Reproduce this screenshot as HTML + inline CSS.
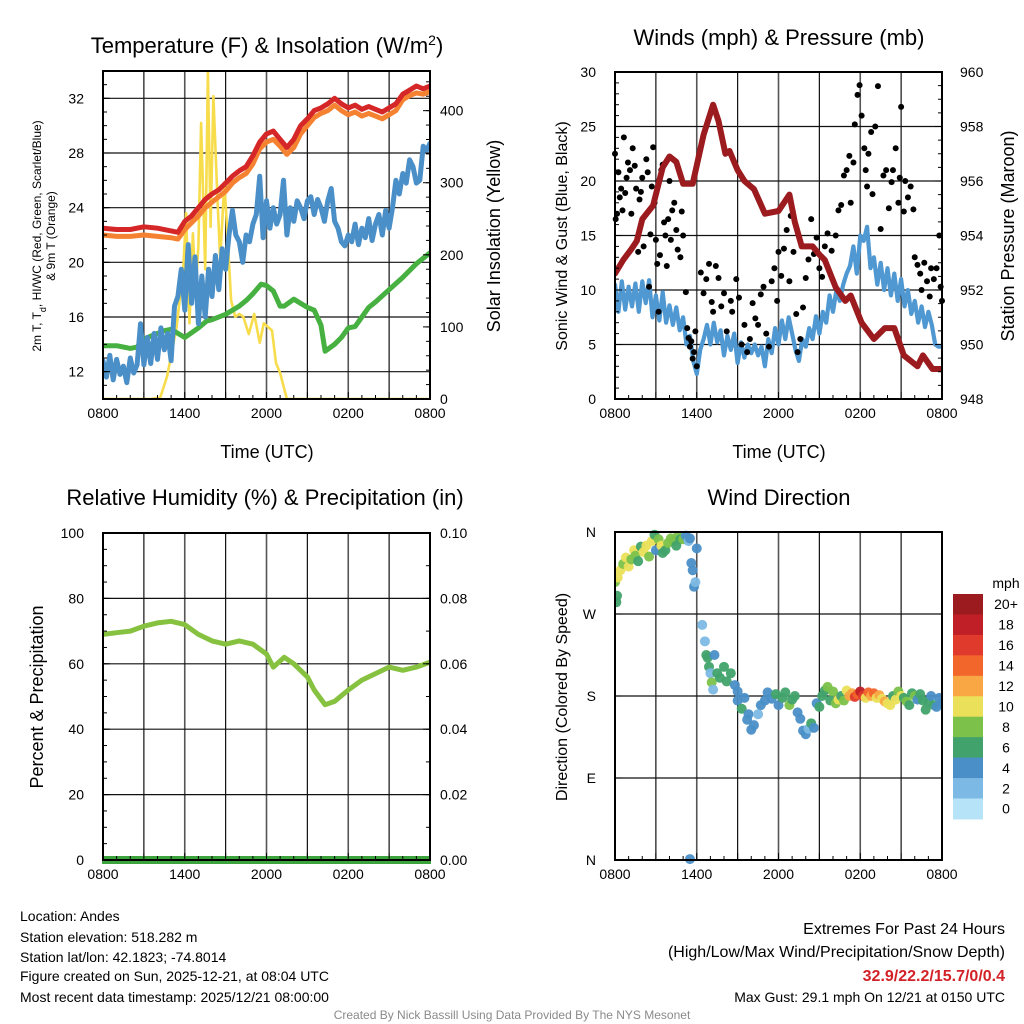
<!DOCTYPE html>
<html><head><meta charset="utf-8"><title>Mesonet Meteogram</title>
<style>
html,body{margin:0;padding:0;background:#fff;}
svg{display:block;font-family:"Liberation Sans",Arial,sans-serif;}
</style></head>
<body>
<svg id="fig" width="1024" height="1024" viewBox="0 0 1024 1024" xmlns="http://www.w3.org/2000/svg">
<rect x="0" y="0" width="1024" height="1024" fill="#fff"/>
<!-- titles -->
<text x="267" y="53" font-size="22" text-anchor="middle">Temperature (F) &amp; Insolation (W/m<tspan baseline-shift="super" font-size="14">2</tspan>)</text>
<text x="779" y="45" font-size="22" text-anchor="middle">Winds (mph) &amp; Pressure (mb)</text>
<text x="265" y="505" font-size="22" text-anchor="middle">Relative Humidity (%) &amp; Precipitation (in)</text>
<text x="779" y="505" font-size="22" text-anchor="middle">Wind Direction</text>
<!-- axis titles -->
<text x="267" y="458" font-size="18" text-anchor="middle">Time (UTC)</text>
<text x="779" y="458" font-size="18" text-anchor="middle">Time (UTC)</text>
<text transform="translate(41,236) rotate(-90)" font-size="12" text-anchor="middle">2m T, T<tspan baseline-shift="sub" font-size="9">d</tspan>, HI/WC (Red, Green, Scarlet/Blue)</text>
<text transform="translate(55,236) rotate(-90)" font-size="12" text-anchor="middle">&amp; 9m T (Orange)</text>
<text transform="translate(500,236) rotate(-90)" font-size="18" text-anchor="middle">Solar Insolation (Yellow)</text>
<text transform="translate(567,236) rotate(-90)" font-size="16" text-anchor="middle">Sonic Wind &amp; Gust (Blue, Black)</text>
<text transform="translate(1014,236) rotate(-90)" font-size="18" text-anchor="middle">Station Pressure (Maroon)</text>
<text transform="translate(43,697) rotate(-90)" font-size="18" text-anchor="middle">Percent &amp; Precipitation</text>
<text transform="translate(567,697) rotate(-90)" font-size="16" text-anchor="middle">Direction (Colored By Speed)</text>
<!-- footer -->
<g font-size="14">
<text x="20" y="921">Location: Andes</text>
<text x="20" y="942">Station elevation: 518.282 m</text>
<text x="20" y="962">Station lat/lon: 42.1823; -74.8014</text>
<text x="20" y="981">Figure created on Sun, 2025-12-21, at 08:04 UTC</text>
<text x="20" y="1002">Most recent data timestamp: 2025/12/21 08:00:00</text>
</g>
<g text-anchor="end">
<text x="1005" y="934" font-size="16">Extremes For Past 24 Hours</text>
<text x="1005" y="957" font-size="16">(High/Low/Max Wind/Precipitation/Snow Depth)</text>
<text x="1005" y="981" font-size="16" font-weight="bold" fill="#d22228">32.9/22.2/15.7/0/0.4</text>
<text x="1005" y="1002" font-size="14">Max Gust: 29.1 mph On 12/21 at 0150 UTC</text>
</g>
<text x="512" y="1019" font-size="12" fill="#8a8a8a" text-anchor="middle">Created By Nick Bassill Using Data Provided By The NYS Mesonet</text>
</svg>
<script>
// ---------- shared ----------
const xTickLabels = ["0800","1400","2000","0200","0800"];
// Panel 1 data
const redT = [0,1,2,3,4,5,5.5,6,6.5,7,7.5,8,8.5,9,9.5,10,10.5,11,11.5,12,12.5,13,13.5,14,14.5,15,15.5,16,16.5,17,17.5,18,18.5,19,19.5,20,20.5,21,21.5,22,22.5,23,23.5,24];
const redV = [22.5,22.4,22.4,22.6,22.5,22.3,22.2,23.0,23.4,24.0,24.6,25.0,25.3,25.8,26.3,26.7,27.0,27.8,28.8,29.4,29.6,29.0,28.4,29.0,30.0,30.5,31.1,31.3,31.6,32.0,31.6,31.3,31.5,31.2,31.4,31.2,31.0,31.3,31.6,32.3,32.6,32.9,32.7,32.9];
const orangeV = [22.0,21.9,21.9,22.0,21.9,21.8,21.7,22.4,22.9,23.4,24.0,24.4,24.8,25.2,25.8,26.2,26.5,27.2,28.3,28.8,29.0,28.5,27.9,28.4,29.4,30.0,30.6,30.9,31.1,31.5,31.1,30.8,31.0,30.7,30.9,30.7,30.5,30.8,31.1,31.9,32.2,32.4,32.3,32.5];
const greenT = [0,1,2,2.5,3,4,4.5,5,5.5,6,7,7.6,8,9,10,10.5,11,11.6,12,12.5,13,13.3,14,14.5,15,15.5,16,16.3,17,17.5,18,18.5,19,19.5,20,21,22,22.5,23,24];
const greenV = [13.9,13.9,13.7,13.8,14.4,14.8,15.0,15.1,14.8,14.5,15.2,15.7,15.8,16.2,16.8,17.2,17.7,18.4,18.3,17.9,16.8,16.8,17.3,17.0,16.7,16.5,15.4,13.5,14.0,14.5,15.2,15.3,16.0,16.7,17.1,18.0,18.9,19.4,19.9,20.7];
const blueV = [12.8,11.6,13.2,11.4,12.9,11.8,12.4,11.2,13.0,11.9,12.5,15.5,12.5,14.5,12.6,14.8,12.9,15.2,13.6,14.8,12.8,16.8,17.5,19.5,16.5,21.3,17.0,20.4,15.5,19.0,16.0,19.5,17.5,20.5,18.0,21.0,19.5,22.0,23.8,22.0,21.5,20.0,22.0,21.5,22.8,23.5,26.3,21.8,24.5,22.5,24.0,22.8,23.5,26.0,22.0,24.0,23.0,24.5,24.0,23.2,24.5,24.8,23.5,24.6,24.0,23.0,24.5,25.4,23.0,22.5,21.5,21.2,22.0,21.5,22.8,21.3,22.5,21.8,23.2,21.6,22.8,23.5,22.0,23.8,22.5,24.0,26.0,25.0,26.5,25.8,27.5,27.0,25.8,26.0,28.5,28.2,28.7];
const solarT = [0,3.5,4.2,4.7,5.0,5.4,5.7,5.9,6.1,6.35,6.6,6.8,7.0,7.2,7.5,7.7,7.9,8.1,8.4,8.6,8.9,9.1,9.4,9.7,10.0,10.3,10.7,11.1,11.5,11.8,12.1,12.4,12.7,13.0,13.5,24];
const solarV = [0,0,2,31,60,100,150,184,258,105,230,150,212,383,180,455,239,420,276,193,300,239,137,114,118,114,90,118,78,105,100,95,50,36,0,0];
// Panel 2 data
const pressT = [0,0.6,1.2,1.6,2,2.8,3.5,4,4.5,5,5.7,6.5,7.2,7.6,8.1,8.4,9,9.5,10.2,11,12,12.8,13.2,13.7,14.5,15,15.4,16.2,16.9,17.3,18.1,19,19.8,20.5,21.2,22.2,22.6,23.3,24];
const pressV = [952.6,953.1,953.5,953.8,954.6,955.1,956.5,956.9,956.7,955.9,955.9,957.7,958.8,958.2,957.0,957.1,956.4,956.0,955.7,954.8,954.9,955.5,954.5,953.6,953.6,953.3,953.1,952.1,951.6,951.8,950.8,950.2,950.6,950.6,949.6,949.2,949.6,949.1,949.1];
const windV = [10.5,8.0,10.8,8.2,10.3,8.5,10.6,8.0,10.8,8.8,10.9,7.5,9.5,7.2,9.8,7.0,8.6,6.8,8.4,6.3,7.5,5.0,5.8,3.5,2.3,4.5,5.5,6.8,5.0,7.0,5.2,6.3,4.0,5.8,4.5,6.0,3.3,5.2,3.8,5.0,4.2,5.0,4.0,4.8,3.0,5.5,4.2,6.5,5.0,7.2,5.5,7.5,6.0,4.5,3.5,5.5,4.8,6.5,5.5,7.6,6.0,8.0,7.0,9.5,8.0,10.0,9.0,10.5,11.5,12.2,14.0,11.5,15.0,14.5,15.8,12.0,13.0,10.5,12.5,10.0,12.0,9.5,11.5,9.0,11.0,8.5,10.0,7.8,9.0,7.0,8.5,6.6,8.0,6.8,5.0,4.8,4.8];
const gustT = [0.0,0.05,0.15,0.25,0.35,0.45,0.55,0.65,0.75,0.85,0.95,1.1,1.2,1.3,1.45,1.55,1.7,1.8,1.9,2.0,2.1,2.3,2.4,2.5,2.6,2.7,2.8,2.9,3.0,3.1,3.2,3.3,3.4,3.5,3.6,3.7,3.8,3.9,4.0,4.1,4.2,4.35,4.5,4.6,4.8,4.9,5.0,5.2,5.3,5.4,5.5,5.6,5.7,5.8,5.9,6.0,6.3,6.5,6.7,6.9,7.1,7.2,7.4,7.6,7.8,8.0,8.2,8.5,8.6,8.9,9.1,9.3,9.5,9.7,9.9,10.1,10.3,10.5,10.7,10.9,11.1,11.3,11.5,11.7,11.9,12.0,12.2,12.4,12.6,12.8,12.9,13.1,13.3,13.4,13.6,13.8,14.0,14.2,14.4,14.6,14.8,15.0,15.2,15.4,15.6,15.9,16.2,16.4,16.6,16.8,17.0,17.2,17.3,17.5,17.6,17.8,17.95,18.1,18.3,18.4,18.5,18.6,18.8,18.9,19.1,19.3,19.5,19.7,19.9,20.1,20.3,20.4,20.6,20.8,20.9,21.0,21.2,21.3,21.5,21.7,21.9,22.0,22.2,22.4,22.5,22.7,22.9,23.1,23.2,23.4,23.6,23.8,23.9,24.0];
const gustV = [22.5,16.5,17.0,20.8,18.5,19.3,17.3,24.0,18.9,20.3,21.7,21.0,17.0,23.0,21.4,19.3,13.5,18.3,19.0,20.3,14.0,22.0,20.8,10.3,15.1,19.5,23.1,18.0,14.6,12.4,8.0,13.2,21.0,21.5,16.2,15.0,12.2,16.5,20.0,14.6,17.3,18.0,15.5,13.7,13.0,17.2,15.0,9.8,6.5,5.6,4.8,5.3,3.7,4.3,6.2,3.0,11.6,9.7,11.0,12.4,8.9,8.0,12.2,11.1,8.5,9.7,6.2,9.0,8.0,11.0,9.3,5.0,6.8,4.3,5.5,8.8,7.4,6.8,9.6,10.3,6.0,4.8,10.8,12.0,9.0,13.5,11.3,13.8,15.5,10.8,16.8,13.5,7.8,4.3,5.5,8.4,11.1,12.8,16.5,13.3,14.8,12.0,11.2,14.0,15.2,13.6,15.0,17.3,17.8,20.5,21.0,22.3,18.0,21.7,25.2,27.9,28.8,26.0,23.0,21.0,19.5,22.5,24.5,18.8,25.0,28.7,15.6,20.5,21.0,17.5,19.9,21.0,23.0,18.0,20.3,26.8,17.2,20.0,18.5,19.5,17.4,13.0,12.3,11.5,10.0,12.5,10.8,9.4,12.0,11.0,12.0,15.0,10.3,9.0];
// Panel 3 data
const rhT = [0,1,2,3,4,5,6,7,8,9,10,11,12,12.5,13.3,14,15,15.5,16.3,17,18,19,20,21,22,23,24];
const rhV = [69,69.5,70,71.5,72.5,73,72,69,67,66,67,66,63,59,62,60,56,52,47.5,48.5,52,55,57,59,58,59,60.5];
const precipT = [0,24];
const precipV = [0,0];
// Panel 4 data
const dirT = [0.0,0.1,0.15,0.2,0.4,0.6,0.8,1.0,1.2,1.4,1.5,1.7,1.9,2.1,2.3,2.5,2.7,2.9,3.0,3.2,3.4,3.5,3.7,3.9,4.1,4.3,4.5,4.6,4.8,5.0,5.2,5.4,5.5,5.6,5.7,5.8,5.9,6.0,5.5,6.4,6.6,6.7,6.8,6.9,7.0,7.1,7.2,7.3,7.5,7.7,8.0,8.2,8.5,8.8,9.0,9.0,9.3,9.5,9.8,9.7,10.0,10.2,10.5,10.7,11.0,11.2,11.5,11.8,12.0,12.3,12.5,12.8,13.0,13.2,13.4,13.6,13.8,14.0,14.2,14.4,14.6,14.8,15.0,15.2,15.4,15.6,15.8,16.0,16.2,16.4,16.6,16.8,17.0,17.2,17.4,17.6,17.8,18.0,18.2,18.4,18.6,18.8,19.0,19.2,19.4,19.6,19.8,20.0,20.2,20.4,20.6,20.8,21.0,21.2,21.4,21.6,21.8,22.0,22.2,22.4,22.6,22.8,23.0,23.2,23.4,23.6,23.8,24.0];
const dirV = [305,283,290,310,318,325,332,322,330,340,334,328,344,338,345,333,350,357,340,352,345,337,340,348,353,350,345,355,352,352,356,350,353,326,318,300,305,342,1,258,240,225,222,212,205,195,187,225,205,200,212,196,205,192,185,175,166,178,160,154,143,148,160,170,175,184,177,182,170,178,184,170,176,180,162,155,142,138,144,150,145,172,168,180,186,190,175,185,172,176,180,175,186,180,183,179,182,185,180,178,184,180,183,178,181,177,174,172,170,180,176,185,180,178,174,170,183,180,176,182,175,165,174,180,170,168,178,172];
const dirS = [8,7,6,10,10,9,10,10,9,10,8,6,7,10,10,9,10,6,4,8,10,6,6,8,8,9,6,8,7,8,4,2,4,4,4,4,2,4,4,2,2,6,6,6,2,8,2,4,6,6,6,6,6,4,4,4,6,4,4,4,4,4,2,4,4,4,4,6,4,6,6,8,6,6,4,4,4,4,2,6,4,4,6,6,6,8,6,8,8,10,6,8,10,12,12,16,14,18,16,10,14,12,14,10,12,10,12,10,10,6,10,8,10,6,8,6,6,8,4,6,6,6,6,4,6,4,4,4];
const speedLabels = ["0","2","4","6","8","10","12","14","16","18","20+"];
const speedColors = ["#b6e3f8","#7cb9e4","#4a8fc7","#41a36b","#7cc24a","#ebe05a","#f9a645","#f2652b","#e03a2c","#c11f27","#9b1b1e"];

const NS = "http://www.w3.org/2000/svg";
const svg = document.getElementById("fig");
function mk(tag, attrs, parent){
  const e = document.createElementNS(NS, tag);
  for (const k in attrs) e.setAttribute(k, attrs[k]);
  (parent||svg).appendChild(e);
  return e;
}
function lin(d0,d1,r0,r1){ return v => r0 + (v-d0)/(d1-d0)*(r1-r0); }

function panelFrame(name, X0, X1, Y0, Y1, hGridVals, yf){
  const g = mk("g", {});
  
  
  const xf = lin(0,24,X0,X1);
  for (let h=3; h<24; h+=3){
    const l = mk("line",{x1:xf(h),x2:xf(h),y1:Y0,y2:Y1,stroke:(h%6===0)?"#555":"#111","stroke-width":(h%6===0)?1.6:1.2}, g);
    
    
  }
  hGridVals.forEach(v=>{
    const l = mk("line",{x1:X0,x2:X1,y1:yf(v),y2:yf(v),stroke:"#111","stroke-width":1.2}, g);
    
    
  });
  return {g, xf};
}
function border(name, X0,X1,Y0,Y1){
  const r = mk("rect",{x:X0,y:Y0,width:X1-X0,height:Y1-Y0,fill:"none",stroke:"#000","stroke-width":2});
  
  
}
function xAxis(name, xf, Ybase){
  xTickLabels.forEach((lab,i)=>{
    const t = mk("text",{x:xf(i*6),y:Ybase+19,"font-size":14,"text-anchor":"middle"});
    t.textContent = lab;
    
    
  });
  for (let h=0; h<=24; h+=1){
    const len = (h%3===0)?7:4;
    const tk = mk("line",{x1:xf(h),x2:xf(h),y1:Ybase,y2:Ybase-len,stroke:"#000","stroke-width":1});
    
    
  }
}
function yLabels(name, vals, labs, yf, x, anchor, side, X){
  vals.forEach((v,i)=>{
    const t = mk("text",{x:x,y:yf(v)+5,"font-size":14,"text-anchor":anchor});
    t.textContent = labs[i];
    
    
    const tk = mk("line",{x1:X,x2:X+side*7,y1:yf(v),y2:yf(v),stroke:"#000","stroke-width":1});
    
    
  });
}
function minorTicks(name, vals, yf, X, side){
  vals.forEach(v=>{
    const tk = mk("line",{x1:X,x2:X+side*4,y1:yf(v),y2:yf(v),stroke:"#000","stroke-width":1});
    
    
  });
}
function series(name, ts, vs, xf, yf, color, w, clipId){
  let d = "";
  ts.forEach((t,i)=>{ d += (i?"L":"M") + xf(t).toFixed(1) + "," + yf(vs[i]).toFixed(1); });
  const p = mk("path",{d:d,fill:"none",stroke:color,"stroke-width":w,"stroke-linejoin":"round","stroke-linecap":"round","clip-path":"url(#"+clipId+")"});
  
  
  return p;
}
function clip(id, X0,X1,Y0,Y1){
  let defs = svg.querySelector("defs") || mk("defs",{});
  const c = mk("clipPath",{id:id}, defs);
  mk("rect",{x:X0-1,y:Y0,width:X1-X0+2,height:Y1-Y0+1}, c);
}
function range(a,b,s){ const r=[]; for(let v=a; v<=b+1e-9; v+=s) r.push(+v.toFixed(4)); return r; }

// ---------- Panel 1 ----------
(function(){
  const X0=103,X1=430,Y0=71,Y1=399;
  const yT = lin(10,34,Y1,Y0);
  const yS = lin(0,455,Y1,Y0);
  const tempTicks=[12,16,20,24,28,32];
  const {xf} = panelFrame("temperature", X0,X1,Y0,Y1,tempTicks,yT);
  clip("c1",X0,X1,Y0,Y1);
  const bt = blueV.map((v,i)=>i*0.25);
  series("solar-insolation-line", solarT, solarV, xf, yS, "#f7dc4c", 2.6, "c1");
  series("dewpoint-line", greenT, greenV, xf, yT, "#46b040", 5, "c1");
  series("heat-index-windchill-line", bt, blueV, xf, yT, "#4a8fc7", 5, "c1");
  series("temperature-9m-line", redT, orangeV, xf, yT, "#f58231", 5, "c1");
  series("temperature-2m-line", redT, redV, xf, yT, "#d62728", 5, "c1");
  border("temperature", X0,X1,Y0,Y1);
  xAxis("temperature", xf, Y1);
  yLabels("temperature-y", tempTicks, tempTicks.map(String), yT, 84, "end", 1, X0);
  minorTicks("temperature-y", range(11,33,1), yT, X0, 1);
  const sTicks=[0,100,200,300,400];
  yLabels("insolation-y", sTicks, sTicks.map(String), yS, 440, "start", -1, X1);
  minorTicks("insolation-y", range(20,440,20), yS, X1, -1);
})();

// ---------- Panel 2 ----------
(function(){
  const X0=615,X1=942,Y0=72,Y1=399;
  const yW = lin(0,30,Y1,Y0);
  const yP = lin(948,960,Y1,Y0);
  const wTicks=[0,5,10,15,20,25,30];
  const {xf} = panelFrame("winds", X0,X1,Y0,Y1,[5,10,15,20,25],yW);
  clip("c2",X0,X1,Y0,Y1);
  const wt = windV.map((v,i)=>i*0.25);
  series("sonic-wind-line", wt, windV, xf, yW, "#4f98d2", 4.2, "c2");
  gustT.forEach((t,i)=>{
    const c = mk("circle",{cx:xf(t),cy:yW(gustV[i]),r:3,fill:"#000"});
    
    
  });
  series("station-pressure-line", pressT, pressV, xf, yP, "#9b1b1e", 6, "c2");
  border("winds", X0,X1,Y0,Y1);
  xAxis("winds", xf, Y1);
  yLabels("wind-y", wTicks, wTicks.map(String), yW, 596, "end", 1, X0);
  minorTicks("wind-y", range(1,29,1), yW, X0, 1);
  const pTicks=[948,950,952,954,956,958,960];
  yLabels("pressure-y", pTicks, pTicks.map(String), yP, 960, "start", -1, X1);
  minorTicks("pressure-y", range(948.5,959.5,0.5), yP, X1, -1);
})();

// ---------- Panel 3 ----------
(function(){
  const X0=103,X1=430,Y0=533,Y1=860;
  const yR = lin(0,100,Y1,Y0);
  const yPr = lin(0,0.10,Y1,Y0);
  const rTicks=[0,20,40,60,80,100];
  const {xf} = panelFrame("humidity", X0,X1,Y0,Y1,[20,40,60,80],yR);
  clip("c3",X0,X1,Y0-6,Y1+6);
  series("relative-humidity-line", rhT, rhV, xf, yR, "#86c240", 5, "c3");
  series("precipitation-line", precipT, precipV, xf, yPr, "#3da33d", 8, "c3");
  border("humidity", X0,X1,Y0,Y1);
  xAxis("humidity", xf, Y1);
  yLabels("humidity-y", rTicks, rTicks.map(String), yR, 84, "end", 1, X0);
  minorTicks("humidity-y", range(5,95,5), yR, X0, 1);
  const prTicks=[0,0.02,0.04,0.06,0.08,0.10];
  yLabels("precip-y", prTicks, prTicks.map(v=>v.toFixed(2)), yPr, 440, "start", -1, X1);
  minorTicks("precip-y", range(0.01,0.09,0.01), yPr, X1, -1);
})();

// ---------- Panel 4 ----------
(function(){
  const X0=615,X1=942,Y0=532,Y1=860;
  const yD = lin(0,360,Y1,Y0);
  const {xf} = panelFrame("direction", X0,X1,Y0,Y1,[90,180,270],yD);
  clip("c4",X0,X1,Y0-6,Y1+6);
  dirT.forEach((t,i)=>{
    const idx = Math.min(10, Math.floor(dirS[i]/2));
    const c = mk("circle",{cx:xf(t),cy:yD(dirV[i]),r:5,fill:speedColors[idx],"fill-opacity":0.95,"clip-path":"url(#c4)"});
    
    
  });
  border("direction", X0,X1,Y0,Y1);
  xAxis("direction", xf, Y1);
  yLabels("direction-y", [0,90,180,270,360], ["N","E","S","W","N"], yD, 596, "end", 1, X0);
  // colorbar
  const CB0=594, CBH=20.45;
  const ttl = mk("text",{x:1006,y:588,"font-size":14,"text-anchor":"middle"});
  ttl.textContent = "mph";
  
  
  speedLabels.forEach((lab,k)=>{
    const j = 10-k;
    const r = mk("rect",{x:953,y:CB0+k*CBH,width:30,height:CBH+0.5,fill:speedColors[j]});
    
    
    const t = mk("text",{x:1006,y:CB0+k*CBH+CBH/2+5,"font-size":14,"text-anchor":"middle"});
    t.textContent = speedLabels[j];
    
    
  });
})();
</script>
</body></html>
